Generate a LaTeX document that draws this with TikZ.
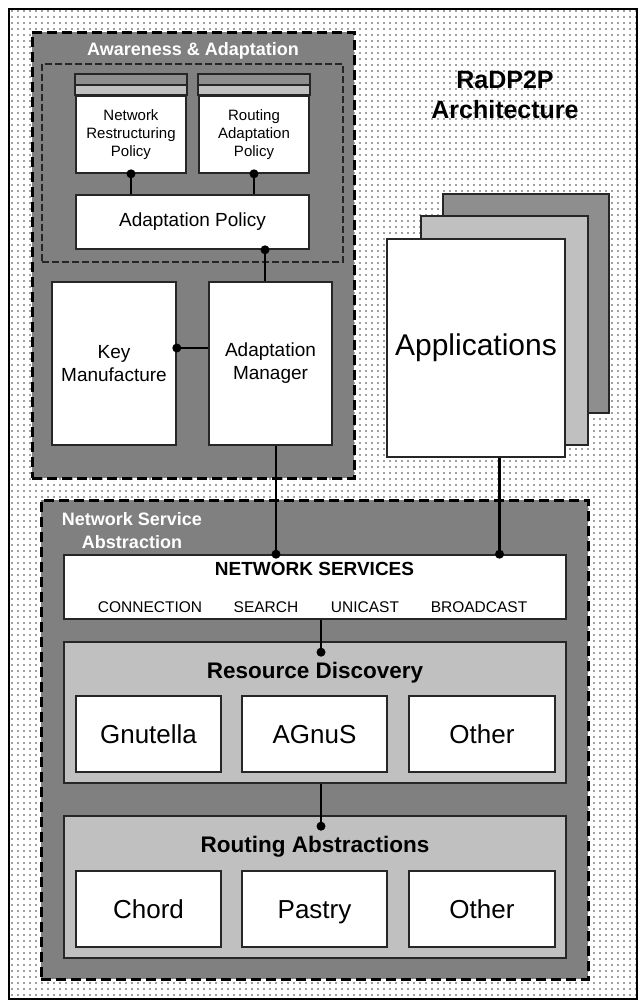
\documentclass[tikz,border=0pt]{standalone}
\usepackage{fontspec}
\setmainfont{Liberation Sans}
\usepackage{xcolor}
\usetikzlibrary{patterns.meta}
\definecolor{zonegray}{HTML}{808080}
\definecolor{layergray}{HTML}{C0C0C0}
\definecolor{stripedark}{HTML}{8E8E8E}
\tikzset{
  zone/.style={draw=black, fill=zonegray, line width=1.5pt, dash pattern=on 5pt off 2.5pt, inner sep=0pt},
  subzone/.style={draw=black!85, line width=0.8pt, dash pattern=on 3.5pt off 1.5pt, inner sep=0pt},
  box/.style={draw=black!85, fill=white, line width=0.8pt, align=center, inner sep=0pt},
  layer/.style={box, fill=layergray},
  zonetitle/.style={text=white, align=center, inner sep=0pt, font=\bfseries\fontsize{9}{11.5}\selectfont},
  layertitle/.style={inner sep=0pt, font=\bfseries\fontsize{11.25}{13}\selectfont},
  smalltxt/.style={font=\fontsize{7.5}{9}\selectfont},
  medtxt/.style={font=\fontsize{9.5}{11.5}\selectfont},
  bigtxt/.style={font=\fontsize{13}{15}\selectfont, text height=9.3pt, text depth=0pt},
  captxt/.style={inner sep=0pt, font=\fontsize{7.75}{9}\selectfont},
  link/.style={line width=1.2pt},
  dot/.style={circle, fill=black, minimum size=4.5pt, inner sep=0pt}
}

\begin{document}
\begin{tikzpicture}[x=0.5pt, y=-0.5pt]
\useasboundingbox (0,0) rectangle (640,1001);
\draw[line width=1.25pt, preaction={fill=white}, pattern={Dots[distance=3pt, radius=0.4pt]}, pattern color=black!75] (9,9) rectangle (637,999);

\node[zone, minimum width=161pt, minimum height=223pt] (aware) at (193,255) {};
\node[zonetitle] (awaretitle) at (193,51) {Awareness \& Adaptation};
\node[subzone, minimum width=150.5pt, minimum height=99pt] (policies) at (192.5,163) {};
\node[box, smalltxt, minimum width=55pt, minimum height=38.5pt] (netpol) at (131,134.5) {Network\\Restructuring\\Policy};
\node[box, smalltxt, minimum width=55pt, minimum height=38.5pt] (routpol) at (254,134.5) {Routing\\Adaptation\\Policy};
\draw[box, fill=stripedark] ([yshift=10.5pt]netpol.north west) rectangle ([yshift=5pt]netpol.north east);
\draw[box, fill=layergray] ([yshift=5pt]netpol.north west) rectangle (netpol.north east);
\draw[box, fill=stripedark] ([yshift=10.5pt]routpol.north west) rectangle ([yshift=5pt]routpol.north east);
\draw[box, fill=layergray] ([yshift=5pt]routpol.north west) rectangle (routpol.north east);
\node[box, medtxt, minimum width=116.5pt, minimum height=27pt] (adpol) at (192.5,222) {Adaptation Policy};
\node[box, medtxt, minimum width=62pt, minimum height=81.5pt] (keyman) at (114,363.5) {Key\\Manufacture};
\node[box, medtxt, minimum width=61.5pt, minimum height=81.5pt] (adman) at (270.5,363.5) {Adaptation\\Manager};

\node[box, fill=stripedark, minimum width=83pt, minimum height=109.5pt] (appback) at (526,303.5) {};
\node[box, fill=layergray, minimum width=83.5pt, minimum height=114.5pt] (appmid) at (504.5,330.5) {};
\node[box, font=\fontsize{15}{17}\selectfont, minimum width=89pt, minimum height=109pt] (apps) at (476,348) {Applications};
\node[align=center, font=\bfseries\fontsize{12.5}{15}\selectfont] (archtitle) at (505,95) {RaDP2P\\Architecture};

\node[zone, minimum width=273.5pt, minimum height=239.5pt] (nsa) at (314.5,739.5) {};
\node[zonetitle] (nsatitle) at (132,530.5) {Network Service\\Abstraction};
\node[box, minimum width=251pt, minimum height=32pt] (netsrv) at (315,587) {};
\node[inner sep=0pt, font=\bfseries\fontsize{9.5}{11}\selectfont] (nstitle) at (314.5,569) {NETWORK SERVICES};
\node[captxt] (connection) at (150,607) {CONNECTION};
\node[captxt] (search) at (266,607) {SEARCH};
\node[captxt] (unicast) at (365,607) {UNICAST};
\node[captxt] (broadcast) at (479,607) {BROADCAST};

\node[layer, minimum width=251pt, minimum height=70.5pt] (resdisc) at (315,712.5) {};
\node[layertitle] (rdtitle) at (315,673) {Resource Discovery};
\node[box, bigtxt, minimum width=72.5pt, minimum height=38pt] (gnutella) at (148.5,734) {Gnutella};
\node[box, bigtxt, minimum width=72.5pt, minimum height=38pt] (agnus) at (314.5,734) {AGnuS};
\node[box, bigtxt, minimum width=73pt, minimum height=38pt] (rdother) at (482,734) {Other};

\node[layer, minimum width=251pt, minimum height=71pt] (routabs) at (315,887) {};
\node[layertitle] (ratitle) at (315,847) {Routing Abstractions};
\node[box, bigtxt, minimum width=72.5pt, minimum height=38pt] (chord) at (148.5,909) {Chord};
\node[box, bigtxt, minimum width=72.5pt, minimum height=38pt] (pastry) at (314.5,909) {Pastry};
\node[box, bigtxt, minimum width=73pt, minimum height=38pt] (raother) at (482,909) {Other};

\coordinate (amtop) at ([xshift=-2.75pt]adman.north);
\coordinate (ambot) at ([xshift=2.75pt]adman.south);
\coordinate (appsbot) at ([xshift=11.75pt]apps.south);
\draw[link] (netpol.south) node[dot] {} -- (netpol.south |- adpol.north);
\draw[link] (routpol.south) node[dot] {} -- (routpol.south |- adpol.north);
\draw[link] (amtop |- adpol.south) node[dot] {} -- (amtop);
\draw[link] ([yshift=7.75pt]keyman.east) node[dot] {} -- ([yshift=7.75pt]adman.west);
\draw[link] (ambot) -- (ambot |- netsrv.north) node[dot] {};
\draw[link] (appsbot) -- (appsbot |- netsrv.north) node[dot] {};
\draw[link] ([xshift=3pt]netsrv.south) -- ([xshift=3pt, yshift=-5.5pt]resdisc.north) node[dot] {};
\draw[link] ([xshift=3pt]resdisc.south) -- ([xshift=3pt, yshift=-5.5pt]routabs.north) node[dot] {};
\end{tikzpicture}
\end{document}
